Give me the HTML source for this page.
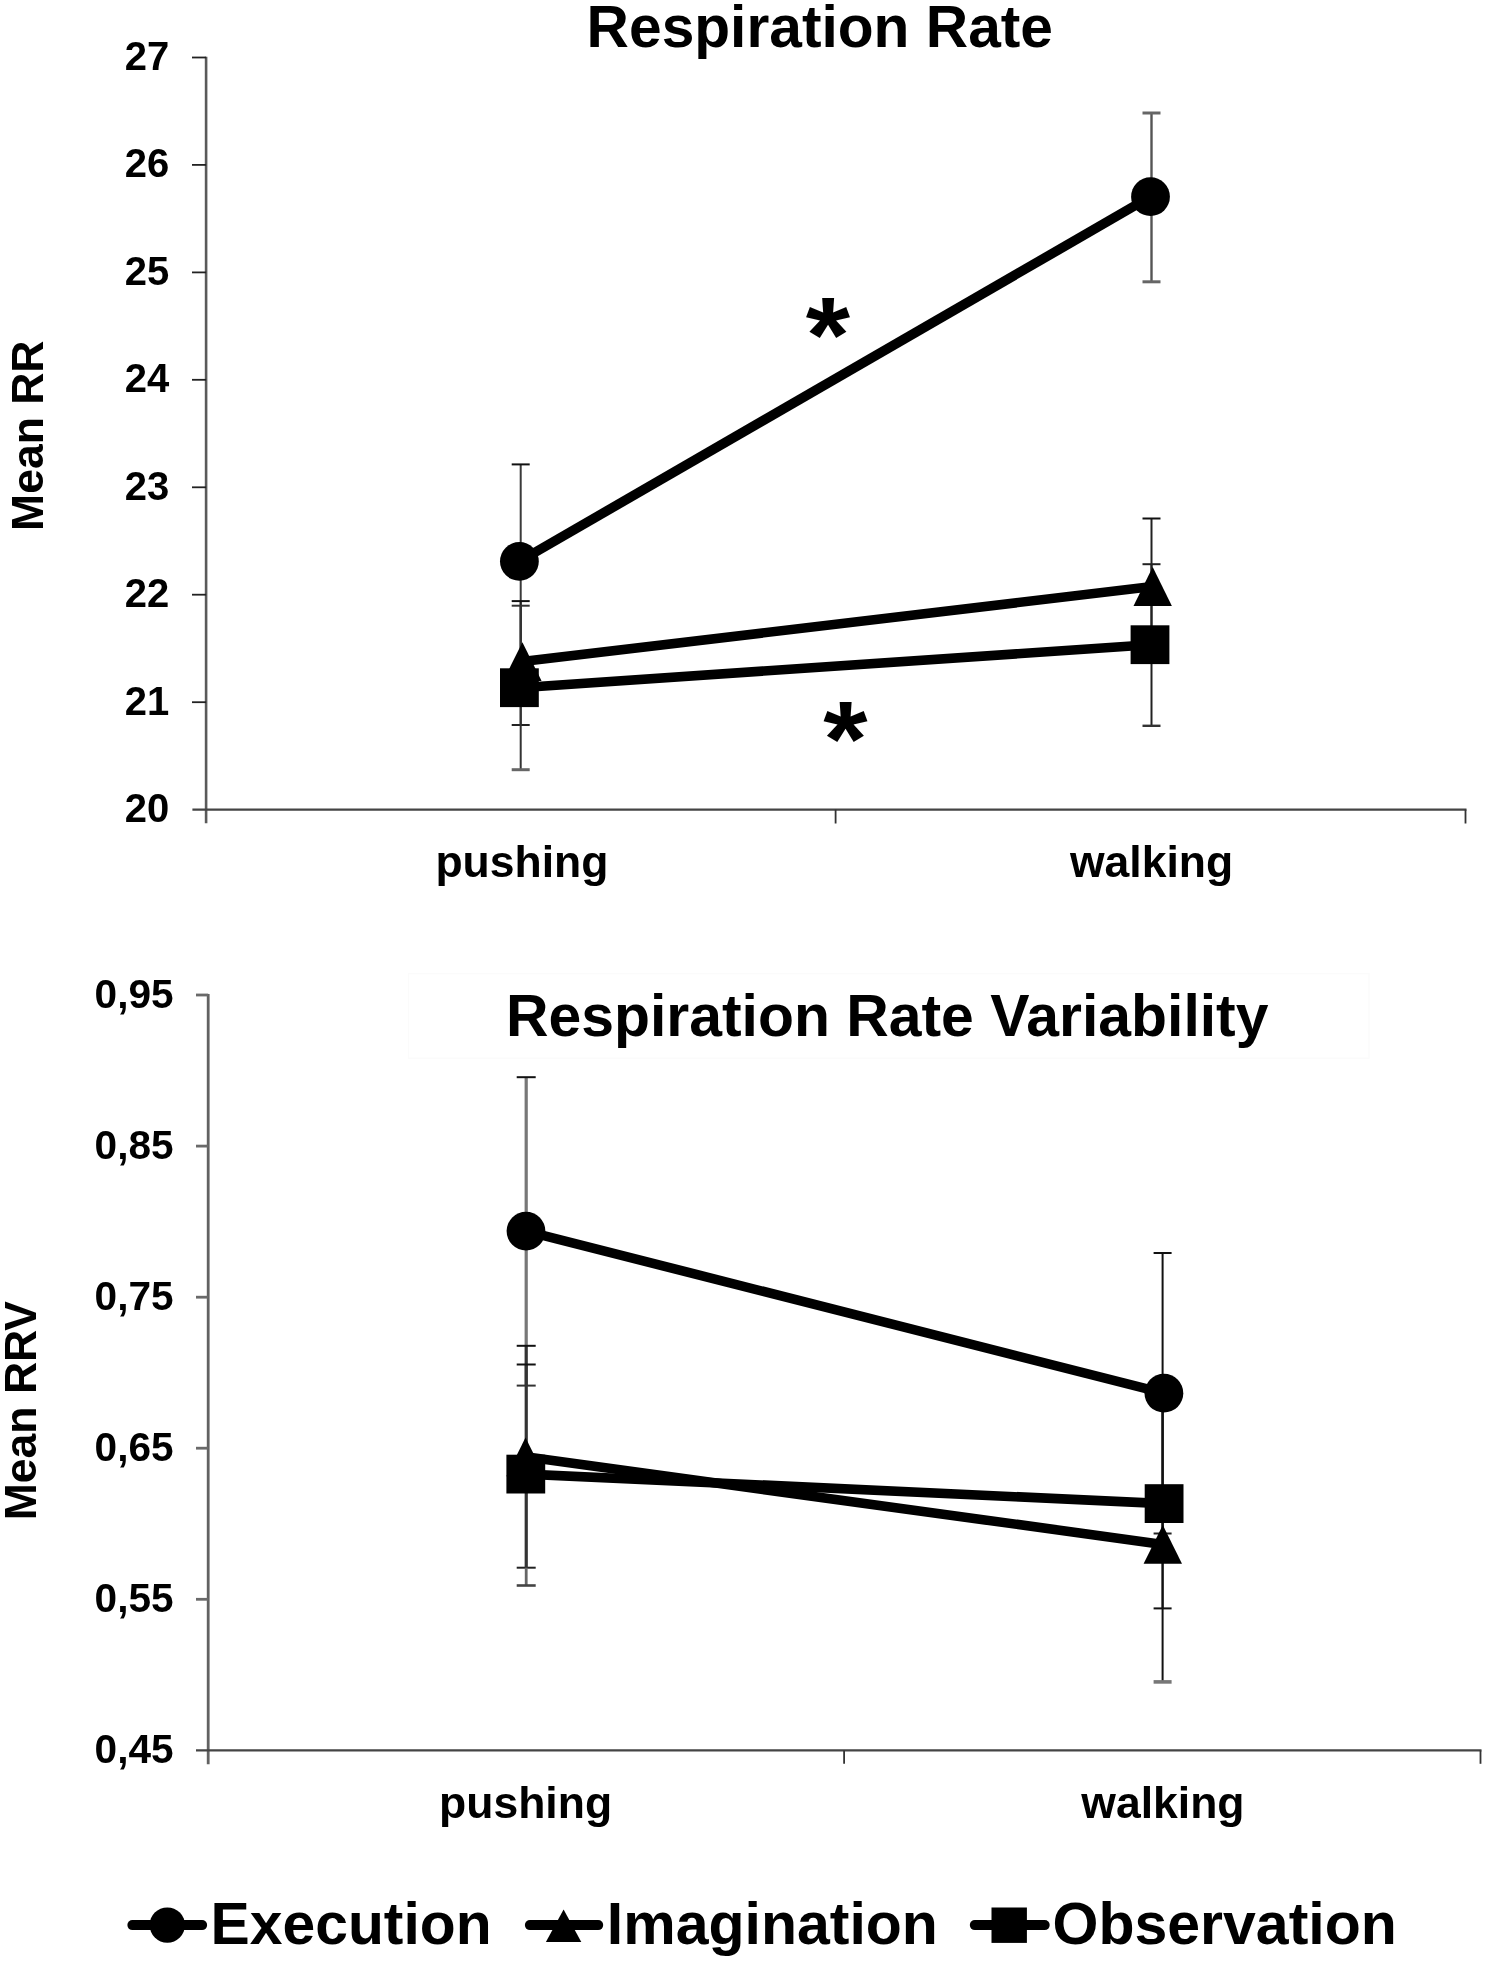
<!DOCTYPE html>
<html lang="en">
<head>
<meta charset="utf-8">
<title>Respiration Rate and Respiration Rate Variability</title>
<style>
html,body{margin:0;padding:0;background:#fff;}
body{width:1486px;height:1962px;overflow:hidden;}
svg{display:block;filter:blur(0.5px);}
svg text{font-family:"Liberation Sans",Arial,sans-serif;font-weight:bold;fill:#000;}
</style>
</head>
<body>
<svg width="1486" height="1962" viewBox="0 0 1486 1962">
<rect x="0" y="0" width="1486" height="1962" fill="#fff"/>
<line x1="206.1" y1="56.7" x2="206.1" y2="823.3" stroke="#5a5a5a" stroke-width="2.6" stroke-linecap="butt"/>
<line x1="192.4" y1="809.6" x2="1466.5" y2="809.6" stroke="#444" stroke-width="2.4" stroke-linecap="butt"/>
<line x1="192" y1="57.5" x2="206.1" y2="57.5" stroke="#222" stroke-width="1.8" stroke-linecap="butt"/>
<line x1="192" y1="164.9" x2="206.1" y2="164.9" stroke="#222" stroke-width="1.8" stroke-linecap="butt"/>
<line x1="192" y1="272.4" x2="206.1" y2="272.4" stroke="#222" stroke-width="1.8" stroke-linecap="butt"/>
<line x1="192" y1="379.8" x2="206.1" y2="379.8" stroke="#222" stroke-width="1.8" stroke-linecap="butt"/>
<line x1="192" y1="487.3" x2="206.1" y2="487.3" stroke="#222" stroke-width="1.8" stroke-linecap="butt"/>
<line x1="192" y1="594.7" x2="206.1" y2="594.7" stroke="#222" stroke-width="1.8" stroke-linecap="butt"/>
<line x1="192" y1="702.2" x2="206.1" y2="702.2" stroke="#222" stroke-width="1.8" stroke-linecap="butt"/>
<line x1="835.6" y1="809.6" x2="835.6" y2="823.5" stroke="#333" stroke-width="1.8" stroke-linecap="butt"/>
<line x1="1465.5" y1="809.6" x2="1465.5" y2="823.5" stroke="#333" stroke-width="1.8" stroke-linecap="butt"/>
<text x="169.2" y="69.8" font-size="40" text-anchor="end" >27</text>
<text x="169.2" y="177.2" font-size="40" text-anchor="end" >26</text>
<text x="169.2" y="284.7" font-size="40" text-anchor="end" >25</text>
<text x="169.2" y="392.1" font-size="40" text-anchor="end" >24</text>
<text x="169.2" y="499.6" font-size="40" text-anchor="end" >23</text>
<text x="169.2" y="607.0" font-size="40" text-anchor="end" >22</text>
<text x="169.2" y="714.5" font-size="40" text-anchor="end" >21</text>
<text x="169.2" y="821.9" font-size="40" text-anchor="end" >20</text>
<text x="819.8" y="46.5" font-size="58.7" text-anchor="middle" >Respiration Rate</text>
<text x="521.9" y="877" font-size="44.5" text-anchor="middle" >pushing</text>
<text x="1151.6" y="877" font-size="44.5" text-anchor="middle" >walking</text>
<text transform="translate(42.6,435.7) rotate(-90)" font-size="44.5" text-anchor="middle">Mean RR</text>
<line x1="520.7" y1="464.4" x2="520.7" y2="659.5" stroke="#3a3a3a" stroke-width="2" stroke-linecap="butt"/>
<line x1="511.70000000000005" y1="464.4" x2="529.7" y2="464.4" stroke="#111" stroke-width="2" stroke-linecap="butt"/>
<line x1="520.7" y1="601.1" x2="520.7" y2="725" stroke="#222" stroke-width="2" stroke-linecap="butt"/>
<line x1="511.70000000000005" y1="601.1" x2="529.7" y2="601.1" stroke="#111" stroke-width="2" stroke-linecap="butt"/>
<line x1="511.70000000000005" y1="725" x2="529.7" y2="725" stroke="#222" stroke-width="2" stroke-linecap="butt"/>
<line x1="520.7" y1="605.7" x2="520.7" y2="769.7" stroke="#333" stroke-width="2" stroke-linecap="butt"/>
<line x1="511.70000000000005" y1="605.7" x2="529.7" y2="605.7" stroke="#333" stroke-width="2" stroke-linecap="butt"/>
<line x1="511.70000000000005" y1="769.7" x2="529.7" y2="769.7" stroke="#666" stroke-width="3" stroke-linecap="butt"/>
<line x1="1151.5" y1="113" x2="1151.5" y2="281.8" stroke="#555" stroke-width="2.4" stroke-linecap="butt"/>
<line x1="1142.5" y1="113" x2="1160.5" y2="113" stroke="#666" stroke-width="3" stroke-linecap="butt"/>
<line x1="1142.5" y1="281.8" x2="1160.5" y2="281.8" stroke="#666" stroke-width="3" stroke-linecap="butt"/>
<line x1="1151.5" y1="518.5" x2="1151.5" y2="654.5" stroke="#222" stroke-width="2" stroke-linecap="butt"/>
<line x1="1142.5" y1="518.5" x2="1160.5" y2="518.5" stroke="#111" stroke-width="2" stroke-linecap="butt"/>
<line x1="1151.5" y1="564.2" x2="1151.5" y2="725.8" stroke="#222" stroke-width="2" stroke-linecap="butt"/>
<line x1="1142.5" y1="564.2" x2="1160.5" y2="564.2" stroke="#222" stroke-width="2" stroke-linecap="butt"/>
<line x1="1142.5" y1="725.8" x2="1160.5" y2="725.8" stroke="#333" stroke-width="2.4" stroke-linecap="butt"/>
<line x1="519.4" y1="561.4" x2="1150.5" y2="196.7" stroke="#000" stroke-width="9.6" stroke-linecap="butt"/>
<line x1="522.4" y1="661.6" x2="1152.6" y2="586.5" stroke="#000" stroke-width="9.6" stroke-linecap="butt"/>
<line x1="519.4" y1="687.7" x2="1150" y2="644.7" stroke="#000" stroke-width="9.6" stroke-linecap="butt"/>
<circle cx="519.4" cy="561.4" r="19.4" fill="#000"/>
<circle cx="1150.5" cy="196.7" r="19.4" fill="#000"/>
<polygon points="522.4,642.2 541.6,681.0 503.2,681.0" fill="#000"/>
<polygon points="1152.7,567.1 1171.9,605.9 1133.5,605.9" fill="#000"/>
<rect x="500.0" y="668.3000000000001" width="38.8" height="38.8" fill="#000"/>
<rect x="1130.6" y="625.3000000000001" width="38.8" height="38.8" fill="#000"/>
<text transform="translate(828,372.1) scale(1.055,1)" font-size="108" text-anchor="middle">*</text>
<text transform="translate(845.4,775.8) scale(1.055,1)" font-size="108" text-anchor="middle">*</text>
<rect x="408.5" y="973.6" width="960.5" height="84.6" fill="none" stroke="#fbfbfb" stroke-width="1.2"/>
<line x1="208.2" y1="994.0" x2="208.2" y2="1764.2" stroke="#626262" stroke-width="2.8" stroke-linecap="butt"/>
<line x1="196" y1="1750.4" x2="1481.5" y2="1750.4" stroke="#444" stroke-width="2.4" stroke-linecap="butt"/>
<line x1="196" y1="995.0" x2="208.2" y2="995.0" stroke="#6a6a6a" stroke-width="2.8" stroke-linecap="butt"/>
<line x1="196" y1="1146.1" x2="208.2" y2="1146.1" stroke="#6a6a6a" stroke-width="2.8" stroke-linecap="butt"/>
<line x1="196" y1="1297.2" x2="208.2" y2="1297.2" stroke="#6a6a6a" stroke-width="2.8" stroke-linecap="butt"/>
<line x1="196" y1="1448.2" x2="208.2" y2="1448.2" stroke="#6a6a6a" stroke-width="2.8" stroke-linecap="butt"/>
<line x1="196" y1="1599.3" x2="208.2" y2="1599.3" stroke="#6a6a6a" stroke-width="2.8" stroke-linecap="butt"/>
<line x1="844.1" y1="1750.4" x2="844.1" y2="1763.8" stroke="#333" stroke-width="1.8" stroke-linecap="butt"/>
<line x1="1480.5" y1="1750.4" x2="1480.5" y2="1763.8" stroke="#333" stroke-width="1.8" stroke-linecap="butt"/>
<text x="173.6" y="1007.8" font-size="40.6" text-anchor="end" >0,95</text>
<text x="173.6" y="1158.9" font-size="40.6" text-anchor="end" >0,85</text>
<text x="173.6" y="1310.0" font-size="40.6" text-anchor="end" >0,75</text>
<text x="173.6" y="1461.0" font-size="40.6" text-anchor="end" >0,65</text>
<text x="173.6" y="1612.1" font-size="40.6" text-anchor="end" >0,55</text>
<text x="173.6" y="1763.2" font-size="40.6" text-anchor="end" >0,45</text>
<text x="887.2" y="1036.2" font-size="58.9" text-anchor="middle" >Respiration Rate Variability</text>
<text x="525.6" y="1817.7" font-size="44.5" text-anchor="middle" >pushing</text>
<text x="1162.9" y="1817.7" font-size="44.5" text-anchor="middle" >walking</text>
<text transform="translate(36.4,1410.6) rotate(-90)" font-size="44.5" text-anchor="middle">Mean RRV</text>
<line x1="526.2" y1="1077.2" x2="526.2" y2="1385.6" stroke="#777" stroke-width="3.2" stroke-linecap="butt"/>
<line x1="516.7" y1="1077.2" x2="535.7" y2="1077.2" stroke="#111" stroke-width="2" stroke-linecap="butt"/>
<line x1="516.7" y1="1385.6" x2="535.7" y2="1385.6" stroke="#333" stroke-width="2" stroke-linecap="butt"/>
<line x1="526.2" y1="1345.8" x2="526.2" y2="1567.7" stroke="#333" stroke-width="2.8" stroke-linecap="butt"/>
<line x1="516.7" y1="1345.8" x2="535.7" y2="1345.8" stroke="#111" stroke-width="2" stroke-linecap="butt"/>
<line x1="516.7" y1="1567.7" x2="535.7" y2="1567.7" stroke="#222" stroke-width="2" stroke-linecap="butt"/>
<line x1="526.2" y1="1364.5" x2="526.2" y2="1567.7" stroke="#333" stroke-width="2.8" stroke-linecap="butt"/>
<line x1="526.2" y1="1567.7" x2="526.2" y2="1585.5" stroke="#666" stroke-width="2.8" stroke-linecap="butt"/>
<line x1="516.7" y1="1364.5" x2="535.7" y2="1364.5" stroke="#111" stroke-width="2" stroke-linecap="butt"/>
<line x1="516.7" y1="1585.5" x2="535.7" y2="1585.5" stroke="#444" stroke-width="2.6" stroke-linecap="butt"/>
<line x1="1162.6" y1="1253" x2="1162.6" y2="1533.5" stroke="#111" stroke-width="2" stroke-linecap="butt"/>
<line x1="1153.6" y1="1253" x2="1171.6" y2="1253" stroke="#111" stroke-width="2" stroke-linecap="butt"/>
<line x1="1153.6" y1="1533.5" x2="1171.6" y2="1533.5" stroke="#222" stroke-width="2" stroke-linecap="butt"/>
<line x1="1162.6" y1="1399" x2="1162.6" y2="1608.4" stroke="#111" stroke-width="2" stroke-linecap="butt"/>
<line x1="1153.6" y1="1608.4" x2="1171.6" y2="1608.4" stroke="#111" stroke-width="2" stroke-linecap="butt"/>
<line x1="1162.6" y1="1407" x2="1162.6" y2="1681.9" stroke="#111" stroke-width="2" stroke-linecap="butt"/>
<line x1="1153.6" y1="1681.9" x2="1171.6" y2="1681.9" stroke="#777" stroke-width="3.6" stroke-linecap="butt"/>
<line x1="526" y1="1231.1" x2="1163.9" y2="1393.2" stroke="#000" stroke-width="9.6" stroke-linecap="butt"/>
<line x1="525.5" y1="1456.8" x2="1162.8" y2="1544.4" stroke="#000" stroke-width="9.6" stroke-linecap="butt"/>
<line x1="525.8" y1="1474.1" x2="1164.1" y2="1503.6" stroke="#000" stroke-width="9.6" stroke-linecap="butt"/>
<circle cx="526" cy="1231.1" r="19.4" fill="#000"/>
<circle cx="1163.9" cy="1393.2" r="19.4" fill="#000"/>
<polygon points="525.5,1437.3999999999999 544.7,1476.2 506.3,1476.2" fill="#000"/>
<polygon points="1162.8,1525.0 1182.0,1563.8000000000002 1143.6,1563.8000000000002" fill="#000"/>
<rect x="506.4" y="1454.6999999999998" width="38.8" height="38.8" fill="#000"/>
<rect x="1144.6999999999998" y="1484.1999999999998" width="38.8" height="38.8" fill="#000"/>
<line x1="132.4" y1="1925.1" x2="202.1" y2="1925.1" stroke="#000" stroke-width="10" stroke-linecap="round"/>
<line x1="529.9" y1="1925.1" x2="598.2" y2="1925.1" stroke="#000" stroke-width="10" stroke-linecap="round"/>
<line x1="974.8" y1="1925.1" x2="1044.7" y2="1925.1" stroke="#000" stroke-width="10" stroke-linecap="round"/>
<circle cx="167.3" cy="1925.1" r="17.7" fill="#000"/>
<polygon points="563.6,1909.5 581.3000000000001,1942.1 545.9,1942.1" fill="#000"/>
<rect x="991.5" y="1907.5" width="35.4" height="35.4" fill="#000"/>
<text x="210.6" y="1944.2" font-size="58.8" text-anchor="start" >Execution</text>
<text x="606.8" y="1944.2" font-size="59" text-anchor="start" >Imagination</text>
<text x="1052.5" y="1944.2" font-size="59" text-anchor="start" >Observation</text>
</svg>
</body>
</html>
